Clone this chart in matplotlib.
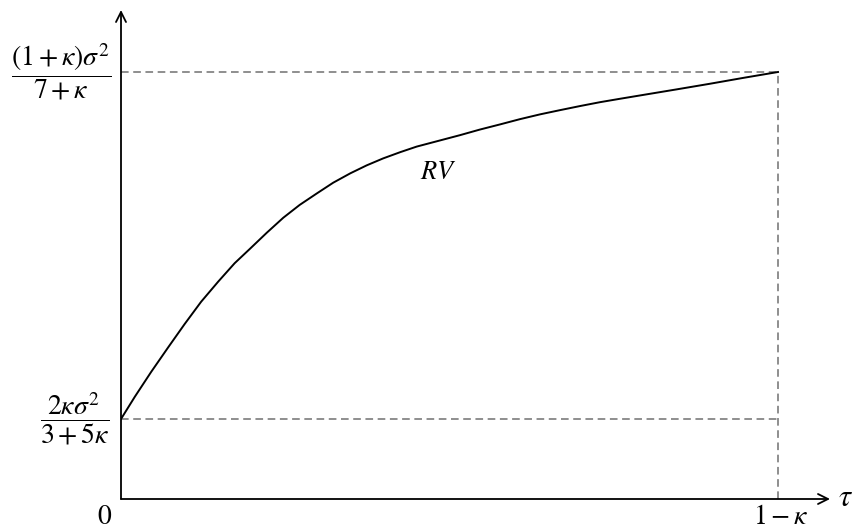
import numpy as np
import matplotlib.pyplot as plt

plt.rcParams['mathtext.fontset'] = 'stix'

# tau scaled so that 1 = (1 - kappa); RV scaled between the two levels
tau = [0.0, 0.021, 0.046, 0.072, 0.097, 0.122, 0.148, 0.173, 0.196, 0.222,
       0.247, 0.272, 0.298, 0.323, 0.349, 0.374, 0.399, 0.425, 0.450, 0.486,
       0.516, 0.546, 0.577, 0.607, 0.638, 0.668, 0.699, 0.729, 0.760, 0.795,
       0.846, 0.896, 0.947, 1.0]
rv = [0.0, 0.064, 0.136, 0.207, 0.274, 0.338, 0.396, 0.449, 0.490, 0.537,
      0.580, 0.617, 0.650, 0.681, 0.708, 0.731, 0.751, 0.769, 0.785, 0.803,
      0.818, 0.834, 0.849, 0.864, 0.878, 0.890, 0.902, 0.913, 0.923, 0.934,
      0.950, 0.966, 0.983, 1.0]

y_low_label = r'$\dfrac{2\kappa\sigma^2}{3+5\kappa}$'
y_high_label = r'$\dfrac{(1+\kappa)\sigma^2}{7+\kappa}$'

fig = plt.figure(figsize=(8.58, 5.30), dpi=100)
W, H = 858, 530
ax = fig.add_axes([121 / W, 31 / H, 709 / W, 489 / H])
xmin, xmax = 0, 709 / 657
ymin, ymax = -80 / 347, 409 / 347
ax.set_xlim(xmin, xmax)
ax.set_ylim(ymin, ymax)
ax.axis('off')

# axes with arrows
ax.annotate('', xy=(xmax, ymin), xytext=(xmin, ymin),
            arrowprops=dict(arrowstyle='->', lw=1.3, color='black', shrinkA=0, shrinkB=0,
                            mutation_scale=18))
ax.annotate('', xy=(xmin, ymax), xytext=(xmin, ymin),
            arrowprops=dict(arrowstyle='->', lw=1.3, color='black', shrinkA=0, shrinkB=0,
                            mutation_scale=18))

# dashed guide lines
ax.plot([0, 1], [1, 1], ls='--', color='#707070', lw=1.1, dashes=(5, 3))
ax.plot([0, 1], [0, 0], ls='--', color='#707070', lw=1.1, dashes=(5, 3))
ax.plot([1, 1], [ymin, 1], ls='--', color='#707070', lw=1.1, dashes=(5, 3))

# curve
ax.plot(tau, rv, color='black', lw=1.4)

ax.text(0.4825, 0.712, r'$RV$', fontsize=19, ha='center', va='center')
ax.text(-0.0913, 1, y_high_label, fontsize=20, ha='center', va='center', clip_on=False)
ax.text(-0.070, 0, y_low_label, fontsize=20, ha='center', va='center', clip_on=False)
ax.text(-0.0244, -0.28, r'$0$', fontsize=20, ha='center', va='center', clip_on=False)
ax.text(1.005, -0.28, r'$1-\kappa$', fontsize=20, ha='center', va='center', clip_on=False)
ax.text(1.102, -0.225, r'$\tau$', fontsize=22, ha='center', va='center', clip_on=False)

plt.savefig('out.png', dpi=100)
